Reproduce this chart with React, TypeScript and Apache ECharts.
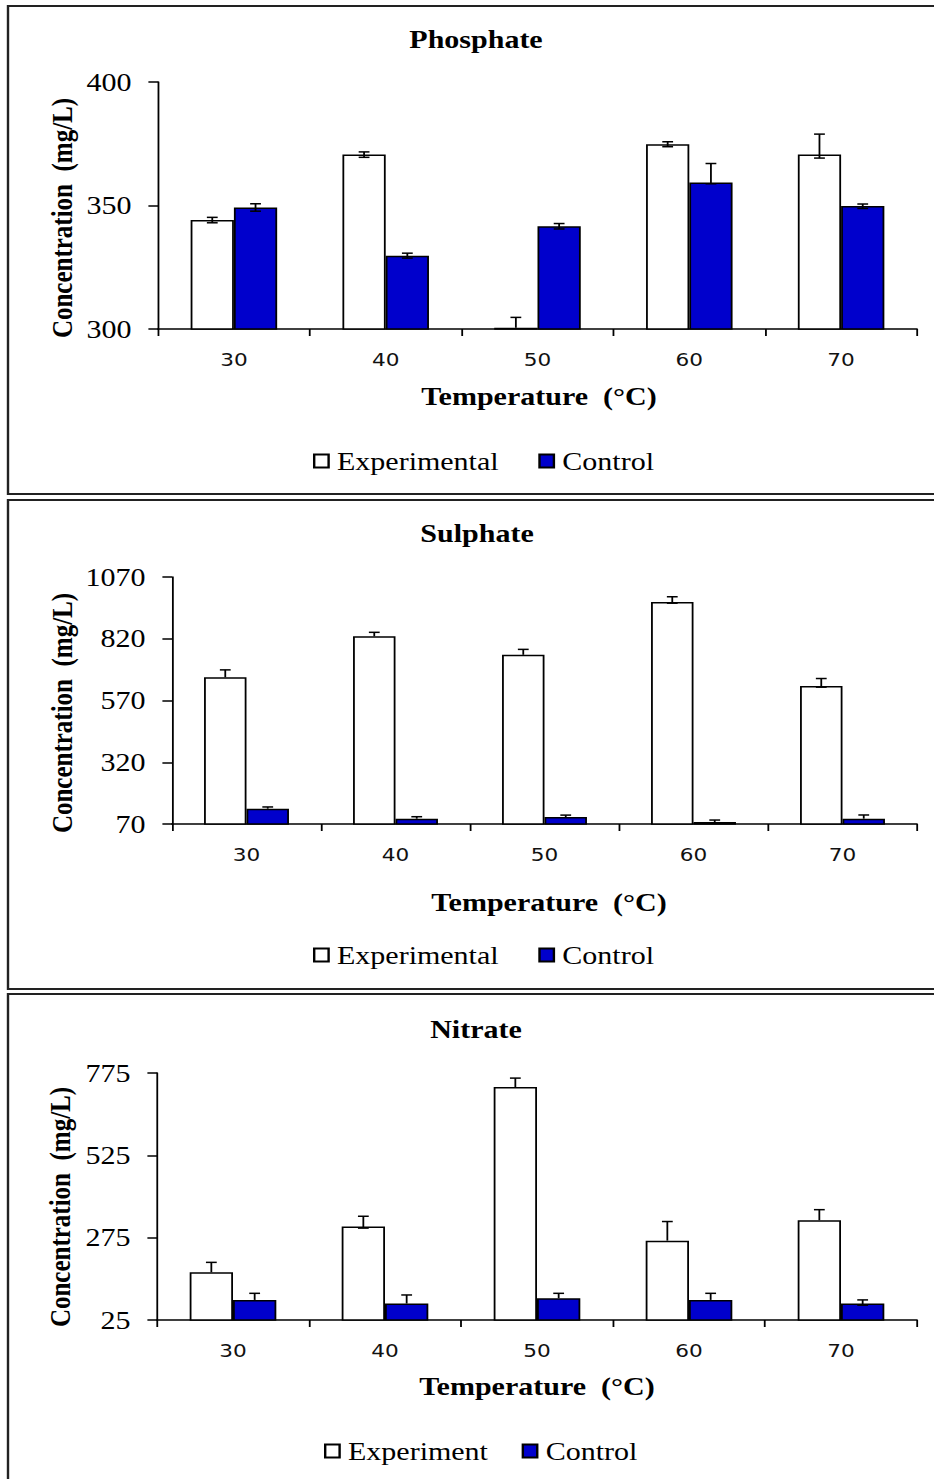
import React, { useEffect, useRef } from 'react';
import * as echarts from 'echarts';

const categories = ['30', '40', '50', '60', '70'];

const phosphateTicks = [300, 350, 400];
const phosphateExp = [344.1, 370.6, 300.5, 374.8, 370.6];
const phosphateExpUp = [1.1, 1.1, 4.2, 1.0, 8.3];
const phosphateExpDown = [1.1, 1.1, 0, 1.0, 1.4];
const phosphateCtrl = [349.2, 329.7, 341.6, 359.3, 349.8];
const phosphateCtrlUp = [1.5, 1.0, 1.1, 7.7, 0.8];
const phosphateCtrlDown = [1.5, 1.0, 1.1, 0.5, 1.0];

const sulphateTicks = [70, 320, 570, 820, 1070];
const sulphateExp = [664, 830, 755, 969, 629];
const sulphateExpUp = [30, 16, 22, 21, 30];
const sulphateExpDown = [0, 0, 0, 5, 5];
const sulphateCtrl = [132, 91.5, 98, 78, 91.5];
const sulphateCtrlUp = [7, 8, 8, 8, 15];
const sulphateCtrlDown = [0, 0, 0, 0, 0];

const nitrateTicks = [25, 275, 525, 775];
const nitrateExp = [170, 309, 732.5, 266, 328];
const nitrateExpUp = [30, 31, 27, 58, 32];
const nitrateExpDown = [0, 5, 0, 0, 0];
const nitrateCtrl = [86, 75, 91, 86, 75];
const nitrateCtrlUp = [20, 26, 15, 20, 11];
const nitrateCtrlDown = [0, 0, 0, 0, 5];

const W = 778;
const H = 1479;
const SX = 934 / W;
const GAP = 0.43;
const CAP = 4.5;
const SERIF = "'Liberation Serif', 'Times New Roman', serif";
const SANS = "'DejaVu Sans', Verdana, sans-serif";
const BLUE = '#0000CC';

const u = (px: number) => px / SX;

const panels = [
  {
    title: 'Phosphate', titleX: 476, titleY: 39,
    ticks: phosphateTicks,
    exp: phosphateExp, expUp: phosphateExpUp, expDown: phosphateExpDown,
    ctrl: phosphateCtrl, ctrlUp: phosphateCtrlUp, ctrlDown: phosphateCtrlDown,
    expName: 'Experimental',
    gridLeft: 158, gridRight: 917, gridTop: 82, gridBottom: 329,
    yNameX: 62, yNameY: 218, xNameX: 539, xNameY: 396,
    legendLeft: 313, legendY: 461, legendGap: 33,
    box: [6, 494],
  },
  {
    title: 'Sulphate', titleX: 477, titleY: 533,
    ticks: sulphateTicks,
    exp: sulphateExp, expUp: sulphateExpUp, expDown: sulphateExpDown,
    ctrl: sulphateCtrl, ctrlUp: sulphateCtrlUp, ctrlDown: sulphateCtrlDown,
    expName: 'Experimental',
    gridLeft: 172, gridRight: 917, gridTop: 577, gridBottom: 824,
    yNameX: 62, yNameY: 713, xNameX: 549, xNameY: 902,
    legendLeft: 313, legendY: 955, legendGap: 33,
    box: [500, 989],
  },
  {
    title: 'Nitrate', titleX: 476, titleY: 1029,
    ticks: nitrateTicks,
    exp: nitrateExp, expUp: nitrateExpUp, expDown: nitrateExpDown,
    ctrl: nitrateCtrl, ctrlUp: nitrateCtrlUp, ctrlDown: nitrateCtrlDown,
    expName: 'Experiment',
    gridLeft: 157, gridRight: 917, gridTop: 1073, gridBottom: 1320,
    yNameX: 60, yNameY: 1207, xNameX: 537, xNameY: 1386,
    legendLeft: 324, legendY: 1451, legendGap: 28,
    box: [994, 1500],
  },
];

function errorRenderer(side: number) {
  return (params: any, api: any) => {
    const idx = api.value(0);
    const v = api.value(1);
    const up = api.value(2);
    const down = api.value(3);
    const band = api.size([1, 0])[0];
    const barW = (band * (1 - GAP)) / 2;
    const c = api.coord([idx, v]);
    const x = c[0] + (side * barW) / 2;
    const yTop = api.coord([idx, v + up])[1];
    const yBot = api.coord([idx, v - down])[1];
    const style = { stroke: '#000', lineWidth: 1.5, fill: null };
    const children: any[] = [
      { type: 'line', shape: { x1: x, y1: yTop, x2: x, y2: yBot }, style },
    ];
    if (up > 0) children.push({ type: 'line', shape: { x1: x - CAP, y1: yTop, x2: x + CAP, y2: yTop }, style });
    if (down > 0) children.push({ type: 'line', shape: { x1: x - CAP, y1: yBot, x2: x + CAP, y2: yBot }, style });
    return { type: 'group', children };
  };
}

function buildOption() {
  const grid: any[] = [];
  const xAxis: any[] = [];
  const yAxis: any[] = [];
  const series: any[] = [];
  const legend: any[] = [];
  const graphic: any[] = [];

  panels.forEach((p, i) => {
    grid.push({
      left: u(p.gridLeft),
      width: u(p.gridRight) - u(p.gridLeft),
      top: p.gridTop,
      height: p.gridBottom - p.gridTop,
      containLabel: false,
      outerBoundsMode: 'none',
    });
    xAxis.push({
      type: 'category',
      gridIndex: i,
      data: categories,
      axisLine: { lineStyle: { color: '#000', width: 1.5 } },
      axisTick: { show: true, length: 7, lineStyle: { color: '#000', width: 1.5 } },
      axisLabel: { color: '#111', fontFamily: SANS, fontSize: 18, margin: 22 },
      splitLine: { show: false },
    });
    const t = p.ticks;
    yAxis.push({
      type: 'value',
      gridIndex: i,
      min: t[0],
      max: t[t.length - 1],
      interval: t[1] - t[0],
      axisLine: { show: true, lineStyle: { color: '#000', width: 1.5 } },
      axisTick: { show: true, length: 8, lineStyle: { color: '#000', width: 1.5 } },
      axisLabel: {
        color: '#000',
        fontFamily: SERIF,
        fontSize: 25,
        margin: 22,
        formatter: (val: number) => String(val),
      },
      splitLine: { show: false },
    });
    series.push({
      type: 'bar',
      name: p.expName,
      xAxisIndex: i,
      yAxisIndex: i,
      data: p.exp,
      itemStyle: { color: '#ffffff', borderColor: '#000', borderWidth: 1.5 },
      barGap: '0%',
      barCategoryGap: `${GAP * 100}%`,
      z: 2,
    });
    series.push({
      type: 'bar',
      name: 'Control',
      xAxisIndex: i,
      yAxisIndex: i,
      data: p.ctrl,
      itemStyle: { color: BLUE, borderColor: '#000', borderWidth: 1.5 },
      barGap: '0%',
      barCategoryGap: `${GAP * 100}%`,
      z: 2,
    });
    series.push({
      type: 'custom',
      name: `err-exp-${i}`,
      xAxisIndex: i,
      yAxisIndex: i,
      renderItem: errorRenderer(-1),
      data: p.exp.map((v, k) => [k, v, p.expUp[k], p.expDown[k]]),
      encode: { x: 0, y: 1 },
      z: 5,
      silent: true,
    });
    series.push({
      type: 'custom',
      name: `err-ctrl-${i}`,
      xAxisIndex: i,
      yAxisIndex: i,
      renderItem: errorRenderer(1),
      data: p.ctrl.map((v, k) => [k, v, p.ctrlUp[k], p.ctrlDown[k]]),
      encode: { x: 0, y: 1 },
      z: 5,
      silent: true,
    });
    legend.push({
      left: u(p.legendLeft),
      top: p.legendY - 12.5,
      padding: 0,
      orient: 'horizontal',
      icon: 'rect',
      itemWidth: 12,
      itemHeight: 13,
      itemGap: p.legendGap,
      selectedMode: false,
      data: [p.expName, 'Control'],
      textStyle: { color: '#000', fontFamily: SERIF, fontSize: 25, padding: [0, 0, 0, 2] },
    });
    graphic.push({
      type: 'rect',
      shape: { x: u(8), y: p.box[0], width: 800, height: p.box[1] - p.box[0] },
      style: { fill: null, stroke: '#222', lineWidth: 2 },
      z: 0,
    });
    const textStyle = (text: string) => ({
      text,
      fill: '#000',
      font: `bold 25px ${SERIF}`,
      textAlign: 'center',
      textVerticalAlign: 'middle',
      align: 'center',
      verticalAlign: 'middle',
    });
    graphic.push({ type: 'text', x: u(p.titleX), y: p.titleY, style: textStyle(p.title), z: 10 });
    graphic.push({
      type: 'text',
      x: u(p.yNameX),
      y: p.yNameY,
      rotation: Math.PI / 2,
      style: textStyle('Concentration  (mg/L)'),
      z: 10,
    });
    graphic.push({ type: 'text', x: u(p.xNameX), y: p.xNameY, style: textStyle('Temperature  (°C)'), z: 10 });
  });

  return {
    animation: false,
    backgroundColor: '#ffffff',
    grid,
    xAxis,
    yAxis,
    series,
    legend,
    graphic: { elements: graphic },
  };
}

export default function App() {
  const ref = useRef<HTMLDivElement>(null);
  useEffect(() => {
    if (!ref.current) return;
    const chart = echarts.init(ref.current, undefined, { renderer: 'svg', width: W, height: H });
    chart.setOption(buildOption() as any);
    return () => chart.dispose();
  }, []);
  return (
    <div style={{ position: 'absolute', left: 0, top: 0, width: 934, height: H, overflow: 'hidden', background: '#fff' }}>
      <div
        ref={ref}
        style={{ width: W, height: H, transform: `scaleX(${SX})`, transformOrigin: '0 0' }}
      />
    </div>
  );
}
